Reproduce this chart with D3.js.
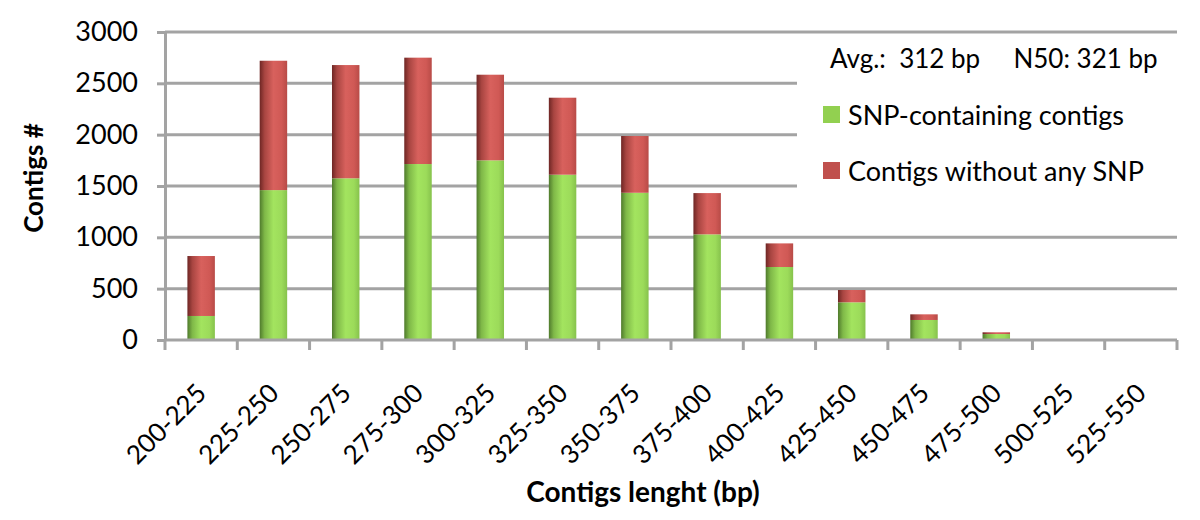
<!DOCTYPE html>
<html>
<head>
<meta charset="utf-8">
<script src="https://cdn.jsdelivr.net/npm/d3@7"></script>
<style>
body { margin: 0; background: #fff; }
svg text { font-family: Lato, "Open Sans", sans-serif; fill: #000; }
.grid line { stroke: #a3a3a3; stroke-width: 3; }
.axis path, .axis line { stroke: #a3a3a3; stroke-width: 3; }
</style>
</head>
<body>
<div id="chart"></div>
<script>
var width = 1200,
    height = 520;

var margin = {top: 32, right: 23, bottom: 180, left: 165};

var categories = ["200-225","225-250","250-275","275-300","300-325","325-350","350-375",
                  "375-400","400-425","425-450","450-475","475-500","500-525","525-550"];
// SNP-containing contigs
var snpValues   = [234, 1460, 1575, 1714, 1750, 1610, 1434, 1029, 711, 367, 195, 58, 0, 0];
// contigs without any SNP (stacked on top)
var noSnpValues = [584, 1260, 1103, 1036, 834, 750, 553, 402, 230, 120, 55, 17, 0, 0];
var yTicks = [0, 500, 1000, 1500, 2000, 2500, 3000];

var innerW = width - margin.left - margin.right,
    innerH = height - margin.top - margin.bottom;

var svg = d3.select("#chart")
    .append("svg")
    .attr("width", width)
    .attr("height", height)

var defs = svg.append("defs");

function addGrad(id, stops) {
    var g = defs.append("linearGradient")
        .attr("id", id)
        .attr("x1", "0%").attr("x2", "100%")
        .attr("y1", "0%").attr("y2", "0%")
    stops.forEach(function (s) {
        g.append("stop").attr("offset", s[0]).attr("stop-color", s[1])
    })
}
addGrad("gradGreen", [["0%","#4f7a2c"],["18%","#7fb848"],["50%","#a3e45f"],["80%","#9cdb5a"],["100%","#86c24c"]]);
addGrad("gradRed",   [["0%","#6e2624"],["18%","#a84541"],["50%","#d8615d"],["80%","#d05955"],["100%","#b84b47"]]);

var g = svg.append("g")
    .attr("transform", "translate(" + margin.left + "," + margin.top + ")")

var x = d3.scaleBand().domain(categories).range([0, innerW]).paddingInner(0.62).paddingOuter(0.31);
var xTick = d3.scaleBand().domain(categories).range([0, innerW]);
var y = d3.scaleLinear().domain([0, 3000]).range([innerH, 0]);

// gridlines
g.append("g")
    .attr("class", "grid")
    .selectAll("line")
    .data(yTicks.filter(function (d) { return d > 0; }))
    .enter().append("line")
    .attr("x1", 0)
    .attr("x2", innerW)
    .attr("y1", function (d) { return y(d); })
    .attr("y2", function (d) { return y(d); })

// legend box hides part of the grid
var lgX = 632, lgY = 40 - margin.top;
g.append("rect")
    .attr("x", lgX)
    .attr("y", lgY)
    .attr("width", innerW - lgX + 2)
    .attr("height", 185)
    .style("fill", "#fff")

// stacked bars
var bars = g.append("g");
categories.forEach(function (c, i) {
    var s = snpValues[i], n = noSnpValues[i];
    if (s > 0) {
        bars.append("rect")
            .attr("x", x(c))
            .attr("y", y(s))
            .attr("width", x.bandwidth())
            .attr("height", y(0) - y(s))
            .style("fill", "url(#gradGreen)")
    }
    if (n > 0) {
        bars.append("rect")
            .attr("x", x(c))
            .attr("y", y(s + n))
            .attr("width", x.bandwidth())
            .attr("height", y(s) - y(s + n))
            .style("fill", "url(#gradRed)")
    }
})

// y axis
var yAxis = g.append("g")
    .attr("class", "axis")
    .call(d3.axisLeft(y).tickValues(yTicks).tickFormat(d3.format("d")).tickSize(8).tickPadding(19).tickSizeOuter(0))
yAxis.selectAll("text")
    .style("font-size", "27px")
    .style("font-family", "Lato, sans-serif")

// x axis with ticks on boundaries
var xAxisG = g.append("g")
    .attr("class", "axis")
    .attr("transform", "translate(0," + innerH + ")")
xAxisG.append("line")
    .attr("x1", 0).attr("x2", innerW)
    .attr("y1", 0).attr("y2", 0)
var bounds = categories.map(function (c) { return xTick(c); }).concat([innerW]);
xAxisG.selectAll(".tk")
    .data(bounds)
    .enter().append("line")
    .attr("class", "tk")
    .attr("x1", function (d) { return d; })
    .attr("x2", function (d) { return d; })
    .attr("y1", 0)
    .attr("y2", 10)

xAxisG.selectAll(".xl")
    .data(categories)
    .enter().append("text")
    .attr("class", "xl")
    .attr("transform", function (d) {
        return "translate(" + (xTick(d) + xTick.bandwidth() / 2 - 6) + ",42) rotate(-45)";
    })
    .attr("dy", "0.7em")
    .style("text-anchor", "end")
    .style("font-size", "26px")
    .text(function (d) { return d; })

// axis titles
svg.append("text")
    .attr("transform", "translate(43,178) rotate(-90)")
    .style("text-anchor", "middle")
    .style("font-weight", "bold")
    .style("font-size", "26px")
    .text("Contigs #")

svg.append("text")
    .attr("x", 643)
    .attr("y", 502)
    .style("text-anchor", "middle")
    .style("font-weight", "bold")
    .style("font-size", "28px")
    .text("Contigs lenght (bp)")

// legend
svg.append("text")
    .attr("x", 830)
    .attr("y", 68)
    .style("font-size", "26px")
    .attr("xml:space", "preserve")
    .text("Avg.:  312 bp     N50: 321 bp")

var legendItems = [
    {label: "SNP-containing contigs", fill: "#92d050", y: 106},
    {label: "Contigs without any SNP", fill: "#c0504d", y: 162}
];
legendItems.forEach(function (d) {
    svg.append("rect")
        .attr("x", 823)
        .attr("y", d.y)
        .attr("width", 17)
        .attr("height", 17)
        .style("fill", d.fill)
    svg.append("text")
        .attr("x", 848)
        .attr("y", d.y + 19)
        .style("font-size", "27px")
        .text(d.label)
})
</script>
</body>
</html>
